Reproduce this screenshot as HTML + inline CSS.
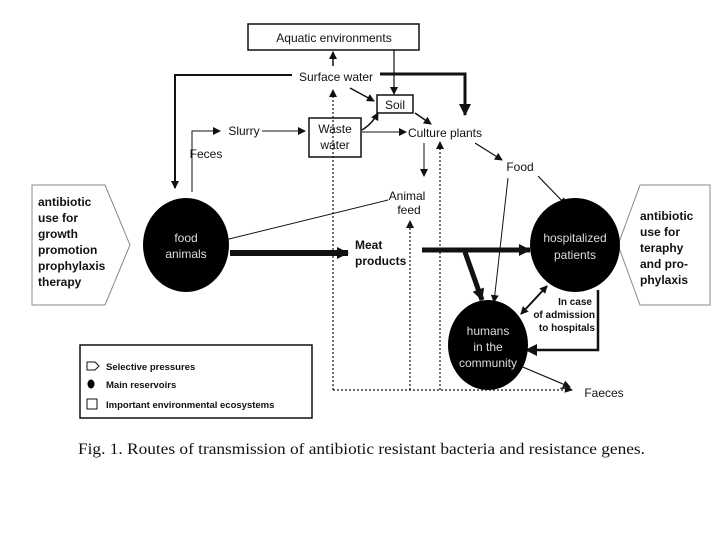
<!DOCTYPE html>
<html><head><style>
html,body{margin:0;padding:0;background:#fff;}
svg{display:block;}
text{font-family:"Liberation Sans",sans-serif;fill:#111;}
</style></head><body>
<svg width="720" height="540" viewBox="0 0 720 540" xmlns="http://www.w3.org/2000/svg">
<defs>
<marker id="a" markerWidth="8" markerHeight="8" refX="7" refY="4" orient="auto" markerUnits="userSpaceOnUse"><path d="M0,0 L8,4 L0,8 z" fill="#111"/></marker>
<marker id="ab" markerWidth="12" markerHeight="12" refX="11" refY="6" orient="auto" markerUnits="userSpaceOnUse"><path d="M0,0 L12,6 L0,12 z" fill="#111"/></marker>
<marker id="as" markerWidth="8" markerHeight="8" refX="1" refY="4" orient="auto" markerUnits="userSpaceOnUse"><path d="M8,0 L0,4 L8,8 z" fill="#111"/></marker>
</defs>
<g stroke="#111" fill="none">
<rect x="248" y="24" width="171" height="26" stroke-width="1.5"/>
<rect x="377" y="95" width="36" height="18" stroke-width="1.5"/>
<rect x="309" y="118" width="52" height="39" stroke-width="1.5"/>
<polyline points="292,75 175,75 175,188" stroke-width="2" marker-end="url(#a)"/>
<polyline points="380,74 465,74 465,115" stroke-width="3" marker-end="url(#ab)"/>
<line x1="333" y1="66" x2="333" y2="52" stroke-width="1.5" marker-end="url(#a)"/>
<line x1="394" y1="50" x2="394" y2="94" stroke-width="1.2" marker-end="url(#a)"/>
<line x1="350" y1="88" x2="374" y2="101" stroke-width="1.5" marker-end="url(#a)"/>
<polyline points="192,192 192,131 220,131" stroke-width="1" marker-end="url(#a)"/>
<line x1="262" y1="131" x2="305" y2="131" stroke-width="1" marker-end="url(#a)"/>
<path d="M362,130 Q372,124 378,113" stroke-width="1.5" marker-end="url(#a)"/>
<line x1="362" y1="132" x2="406" y2="132" stroke-width="1" marker-end="url(#a)"/>
<line x1="415" y1="113" x2="431" y2="124" stroke-width="1.5" marker-end="url(#a)"/>
<line x1="424" y1="143" x2="424" y2="176" stroke-width="1" marker-end="url(#a)"/>
<line x1="475" y1="143" x2="502" y2="160" stroke-width="1.2" marker-end="url(#a)"/>
<line x1="538" y1="176" x2="566" y2="205" stroke-width="1.2" marker-end="url(#a)"/>
<line x1="508" y1="178" x2="494" y2="302" stroke-width="1" marker-end="url(#a)"/>
<line x1="388" y1="200" x2="180" y2="251" stroke-width="1" marker-end="url(#a)"/>
<g stroke-dasharray="2,2" stroke-width="1.2">
<polyline points="333,390 333,90"/>
<polyline points="440,390 440,142"/>
<line x1="333" y1="390" x2="572" y2="390"/>
<line x1="410" y1="390" x2="410" y2="222"/>
</g>
<line x1="333" y1="98" x2="333" y2="90" stroke-width="1" marker-end="url(#a)"/>
<line x1="440" y1="150" x2="440" y2="142" stroke-width="1" marker-end="url(#a)"/>
<line x1="410" y1="230" x2="410" y2="221" stroke-width="1" marker-end="url(#a)"/>
<line x1="560" y1="388" x2="572" y2="390" stroke-width="1" marker-end="url(#a)"/>
<line x1="230" y1="253" x2="348" y2="253" stroke-width="6" marker-end="url(#ab)"/>
<line x1="422" y1="250" x2="530" y2="250" stroke-width="5" marker-end="url(#ab)"/>
<line x1="465" y1="252" x2="482" y2="300" stroke-width="5" marker-end="url(#ab)"/>
<line x1="521" y1="314" x2="547" y2="286" stroke-width="2" marker-start="url(#as)" marker-end="url(#a)"/>
<polyline points="598,290 598,350 526,350" stroke-width="2.5" marker-end="url(#ab)"/>
<line x1="518" y1="365" x2="570" y2="387" stroke-width="1.2" marker-end="url(#a)"/>
<polygon points="32,185 105,185 130,245 105,305 32,305" stroke="#888" stroke-width="1"/>
<polygon points="710,185 640,185 618,245 640,305 710,305" stroke="#888" stroke-width="1"/>
<rect x="80" y="345" width="232" height="73" stroke-width="1.5"/>
<rect x="87" y="399" width="10" height="10" stroke-width="1"/>
<path d="M87,362 h8 l4,4 -4,4 h-8 z" stroke-width="1"/>
</g>
<ellipse cx="186" cy="245" rx="43" ry="47" fill="#000"/>
<ellipse cx="575" cy="245" rx="45" ry="47" fill="#000"/>
<ellipse cx="488" cy="345" rx="40" ry="45" fill="#000"/>
<ellipse cx="91" cy="384" rx="3.5" ry="4.5" fill="#000"/>
<g font-size="12" text-anchor="middle">
<text x="334" y="42">Aquatic environments</text>
<text x="336" y="81">Surface water</text>
<text x="395" y="109">Soil</text>
<text x="335" y="133">Waste</text>
<text x="335" y="149">water</text>
<text x="244" y="135">Slurry</text>
<text x="206" y="158">Feces</text>
<text x="445" y="137">Culture plants</text>
<text x="520" y="171">Food</text>
<text x="407" y="200">Animal</text>
<text x="409" y="214">feed</text>
<text x="604" y="397">Faeces</text>
</g>
<g font-size="12" text-anchor="middle">
<text x="186" y="242" style="fill:#ddd">food</text>
<text x="186" y="258" style="fill:#ddd">animals</text>
<text x="575" y="242" style="fill:#ddd">hospitalized</text>
<text x="575" y="259" style="fill:#ddd">patients</text>
<text x="488" y="335" style="fill:#ddd">humans</text>
<text x="488" y="351" style="fill:#ddd">in the</text>
<text x="488" y="367" style="fill:#ddd">community</text>
</g>
<g font-size="12" font-weight="bold">
<text x="355" y="249">Meat</text>
<text x="355" y="265">products</text>
<text x="38" y="206">antibiotic</text>
<text x="38" y="222">use for</text>
<text x="38" y="238">growth</text>
<text x="38" y="254">promotion</text>
<text x="38" y="270">prophylaxis</text>
<text x="38" y="286">therapy</text>
<text x="640" y="220">antibiotic</text>
<text x="640" y="236">use for</text>
<text x="640" y="252">teraphy</text>
<text x="640" y="268">and pro-</text>
<text x="640" y="284">phylaxis</text>
</g>
<g font-size="10" font-weight="bold" text-anchor="end">
<text x="592" y="305">In case</text>
<text x="595" y="318">of admission</text>
<text x="595" y="331">to hospitals</text>
</g>
<g font-size="9.5" font-weight="bold">
<text x="106" y="370">Selective pressures</text>
<text x="106" y="388">Main reservoirs</text>
<text x="106" y="408">Important environmental ecosystems</text>
</g>
<text x="78" y="454" font-size="16" textLength="567" lengthAdjust="spacingAndGlyphs" style="font-family:'Liberation Serif',serif">Fig. 1. Routes of transmission of antibiotic resistant bacteria and resistance genes.</text>
</svg>
</body></html>
